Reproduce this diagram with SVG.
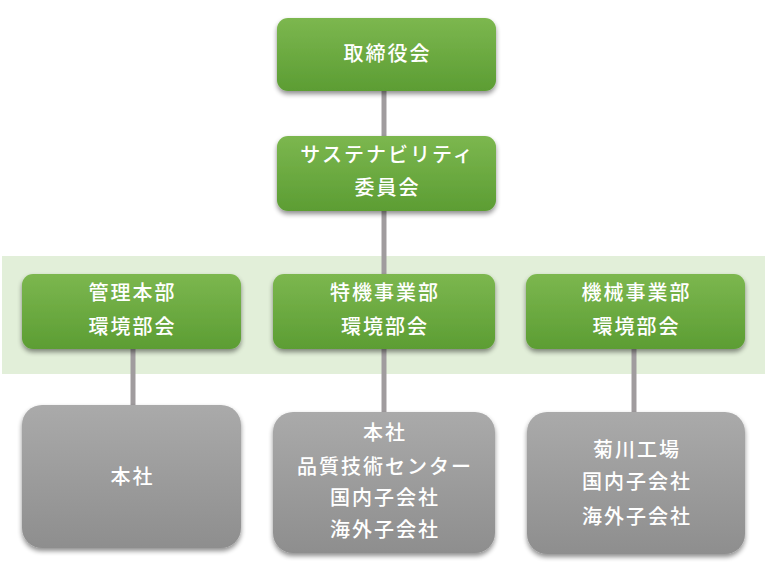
<svg xmlns="http://www.w3.org/2000/svg" width="767" height="569" viewBox="0 0 767 569">
<defs>
<linearGradient id="g" x1="0" y1="0" x2="0" y2="1">
<stop offset="0" stop-color="#7cb74f"/>
<stop offset="1" stop-color="#5c9d33"/>
</linearGradient>
<linearGradient id="k" x1="0" y1="0" x2="0" y2="1">
<stop offset="0" stop-color="#aaaaaa"/>
<stop offset="1" stop-color="#8e8e8e"/>
</linearGradient>
<filter id="s" x="-10%" y="-10%" width="120%" height="130%">
<feGaussianBlur in="SourceAlpha" stdDeviation="2.5"/>
<feOffset dx="0" dy="3" result="b"/>
<feComponentTransfer><feFuncA type="linear" slope="0.45"/></feComponentTransfer>
<feMerge><feMergeNode/><feMergeNode in="SourceGraphic"/></feMerge>
</filter>
</defs>
<style>
.gn{fill:url(#g);filter:url(#s)}
.gy{fill:url(#k);filter:url(#s)}
.t{font-family:"Noto Sans CJK JP","Noto Sans CJK SC",sans-serif;font-size:20px;font-weight:500;fill:#ffffff;text-anchor:middle;letter-spacing:2px}
.c{stroke:#a09c9e;stroke-width:5;fill:none}
</style>
<rect x="2" y="256" width="763" height="118" fill="#e2efd9"/>
<g id="connectors">
<line class="c" x1="384" y1="90" x2="384" y2="137"/>
<line class="c" x1="384" y1="210" x2="384" y2="275"/>
<line class="c" x1="133" y1="348" x2="133" y2="406"/>
<line class="c" x1="384" y1="348" x2="384" y2="413"/>
<line class="c" x1="634" y1="348" x2="634" y2="413"/>
</g>
<g id="board">
<rect class="gn" x="277" y="18" width="219" height="73" rx="11"/>
<text class="t" x="387.5" y="61">取締役会</text>
</g>
<g id="sustainability">
<rect class="gn" x="277" y="136" width="219" height="75" rx="11"/>
<text class="t" x="387.5" y="162">サステナビリティ</text>
<text class="t" x="387.5" y="195">委員会</text>
</g>
<g id="admin">
<rect class="gn" x="22" y="274" width="219" height="75" rx="11"/>
<text class="t" x="132.5" y="300">管理本部</text>
<text class="t" x="132.5" y="334">環境部会</text>
</g>
<g id="special">
<rect class="gn" x="273" y="274" width="222" height="75" rx="11"/>
<text class="t" x="385" y="300">特機事業部</text>
<text class="t" x="385" y="334">環境部会</text>
</g>
<g id="machine">
<rect class="gn" x="526" y="274" width="219" height="75" rx="11"/>
<text class="t" x="636.5" y="300">機械事業部</text>
<text class="t" x="636.5" y="334">環境部会</text>
</g>
<g id="admin-sub">
<rect class="gy" x="22" y="405" width="219" height="143" rx="20"/>
<text class="t" x="132.5" y="484">本社</text>
</g>
<g id="special-sub">
<rect class="gy" x="273" y="412" width="222" height="141" rx="20"/>
<text class="t" x="385" y="440">本社</text>
<text class="t" x="385" y="474">品質技術センター</text>
<text class="t" x="385" y="505">国内子会社</text>
<text class="t" x="385" y="537">海外子会社</text>
</g>
<g id="machine-sub">
<rect class="gy" x="527" y="412" width="218" height="142" rx="20"/>
<text class="t" x="637" y="457">菊川工場</text>
<text class="t" x="637" y="489">国内子会社</text>
<text class="t" x="637" y="524">海外子会社</text>
</g>
</svg>
